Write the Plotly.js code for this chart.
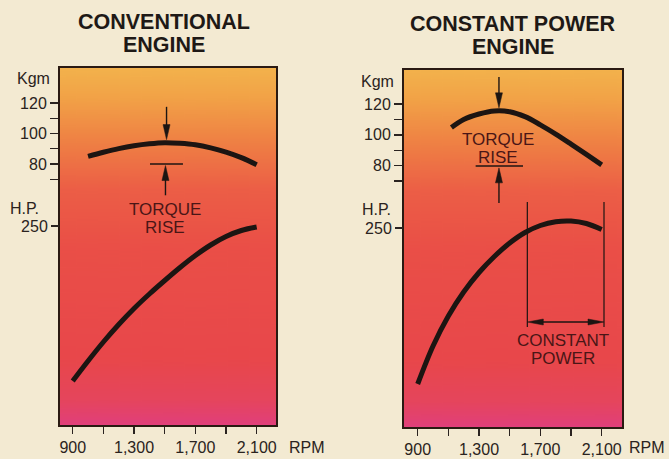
<!DOCTYPE html>
<html><head><meta charset="utf-8">
<script src="https://cdn.plot.ly/plotly-3.0.1.min.js"></script>
<style>html,body{margin:0;padding:0;background:#f3ead2;}#chart{width:669px;height:459px;}</style>
</head><body><div id="chart"></div>
<script>
// ---- data ----
const rpmTicks = [900, 1100, 1300, 1500, 1700, 1900, 2100];
const rpmTickText = ['900', '', '1,300', '', '1,700', '', '2,100'];
const kgmTicks = [70, 80, 90, 100, 110, 120];
const kgmTickText = ['', '80', '', '100', '', '120'];
const hpTicks = [250];
const hpTickText = ['250'];

// Conventional engine
const convTorqueRpm = [1000, 1100, 1200, 1300, 1400, 1500, 1600, 1700, 1800, 1900, 2000, 2100];
const convTorque    = [85.0, 87.7, 90.1, 92.0, 93.3, 94.0, 93.6, 92.6, 90.6, 87.8, 84.2, 79.6];
const convHpRpm = [900, 1000, 1100, 1200, 1300, 1400, 1500, 1600, 1700, 1800, 1900, 2000, 2100];
const convHp    = [95, 115, 134, 151.5, 167.5, 182, 195.5, 208.5, 220.5, 231, 239.5, 245.5, 249];

// Constant power engine
const cpTorqueRpm = [1120, 1200, 1300, 1400, 1500, 1600, 1700, 1800, 1900, 2000, 2100];
const cpTorque    = [104.8, 110.0, 113.5, 115.5, 115.0, 111.8, 106.5, 100.5, 94.0, 87.3, 80.5];
const cpHpRpm = [900, 1000, 1100, 1200, 1300, 1400, 1500, 1600, 1700, 1800, 1900, 2000, 2100];
const cpHp    = [94, 132, 162, 186, 205.5, 221.5, 235, 245.5, 252.5, 256.3, 257, 254.5, 248.5];

// annotation reference values
const convTorqueRiseTop = 96;     // Kgm, torque peak
const convRatedTorque = 80;       // Kgm
const cpTorqueRiseTop = 117.5;
const cpRatedTorque = 79.8;
const cpConstStart = 1615, cpConstEnd = 2115;  // RPM

// ---- helpers ----
const W = 669, H = 459;
const px = v => v / W;
const py = v => 1 - v / H;
const FONT = '"Liberation Sans", Arial, Helvetica, sans-serif';
const INK = '#1c1512';
const TXT = '#2a2320';
const MAROON = '#4a1616';

function gradientURL() {
  const c = document.createElement('canvas');
  c.width = 20; c.height = 400;
  const g = c.getContext('2d');
  const gr = g.createLinearGradient(0, 0, 0, 400);
  gr.addColorStop(0.00, '#f3b24c');
  gr.addColorStop(0.08, '#f2a347');
  gr.addColorStop(0.20, '#ef8244');
  gr.addColorStop(0.34, '#ec5e46');
  gr.addColorStop(0.50, '#ea4f47');
  gr.addColorStop(0.82, '#e8474b');
  gr.addColorStop(0.93, '#e5455d');
  gr.addColorStop(1.00, '#e13f7b');
  g.fillStyle = gr; g.fillRect(0, 0, 20, 400);
  return c.toDataURL('image/png');
}
const bg = gradientURL();

const lineStyle = {color: INK, width: 5, shape: 'spline', smoothing: 1};
const traces = [
  {x: convTorqueRpm, y: convTorque, xaxis: 'x', yaxis: 'y', mode: 'lines', line: lineStyle, hoverinfo: 'skip'},
  {x: convHpRpm, y: convHp, xaxis: 'x', yaxis: 'y3', mode: 'lines', line: lineStyle, hoverinfo: 'skip'},
  {x: cpTorqueRpm, y: cpTorque, xaxis: 'x2', yaxis: 'y2', mode: 'lines', line: lineStyle, hoverinfo: 'skip'},
  {x: cpHpRpm, y: cpHp, xaxis: 'x2', yaxis: 'y4', mode: 'lines', line: lineStyle, hoverinfo: 'skip'}
];

const tickFont = {family: FONT, size: 16, color: TXT};
function xAxis(domain, range, anchor) {
  return {domain, range, anchor, tickmode: 'array', tickvals: rpmTicks, ticktext: rpmTickText,
    ticks: 'outside', ticklen: 7, tickwidth: 1.3, tickcolor: TXT, tickfont: tickFont,
    showgrid: false, zeroline: false, showline: true, mirror: true, linecolor: '#2a1a12', linewidth: 2,
    fixedrange: true};
}
function kgmAxis(domain, range, anchor) {
  return {domain, range, anchor, tickmode: 'array', tickvals: kgmTicks, ticktext: kgmTickText,
    ticks: 'outside', ticklen: 8, tickwidth: 1.3, tickcolor: TXT, tickfont: tickFont,
    showgrid: false, zeroline: false, showline: true, mirror: true, linecolor: '#2a1a12', linewidth: 2,
    fixedrange: true};
}
function hpAxis(over, range, anchor) {
  return {overlaying: over, range, anchor, side: 'left', tickmode: 'array', tickvals: hpTicks, ticktext: hpTickText,
    ticks: 'outside', ticklen: 8, tickwidth: 1.3, tickcolor: TXT, tickfont: tickFont,
    showgrid: false, zeroline: false, showline: false, fixedrange: true};
}

const titleFont = {family: FONT, size: 21.5, color: '#1e1916'};
const labFont = {family: FONT, size: 16, color: TXT};
const noteFont = {family: FONT, size: 17, color: MAROON};

function pTxt(text, x, y, font) {
  return {text, x: px(x), y: py(y), xref: 'paper', yref: 'paper', showarrow: false,
    xanchor: 'center', yanchor: 'middle', font};
}
function dTxt(text, x, y, xr, yr) {
  return {text, x, y, xref: xr, yref: yr, showarrow: false, xanchor: 'center', yanchor: 'middle', font: noteFont};
}

const annotations = [
  pTxt('<b>CONVENTIONAL</b>', 164, 22, titleFont),
  pTxt('<b>ENGINE</b>', 164, 45, titleFont),
  pTxt('<b>CONSTANT POWER</b>', 513, 24, titleFont),
  pTxt('<b>ENGINE</b>', 513, 47, titleFont),
  pTxt('Kgm', 33, 79, labFont),
  pTxt('H.P.', 24, 208, labFont),
  pTxt('RPM', 307, 447, labFont),
  pTxt('Kgm', 377, 81, labFont),
  pTxt('H.P.', 376, 209, labFont),
  pTxt('RPM', 647, 447, labFont),
  dTxt('TORQUE', 1502, 50.5, 'x', 'y'),
  dTxt('RISE', 1502, 38.7, 'x', 'y'),
  dTxt('TORQUE', 1424, 97.3, 'x2', 'y2'),
  dTxt('RISE', 1424, 85.6, 'x2', 'y2'),
  dTxt('CONSTANT', 1848, 138, 'x2', 'y4'),
  dTxt('POWER', 1848, 120, 'x2', 'y4')
];

function seg(xr, yr, x0, y0, x1, y1, w) {
  return {type: 'line', xref: xr, yref: yr, x0, y0, x1, y1, line: {color: INK, width: w || 1.4}};
}
function head(xr, yr, x, y, path) {
  return {type: 'path', xref: xr, yref: yr, xsizemode: 'pixel', ysizemode: 'pixel', xanchor: x, yanchor: y,
    path, fillcolor: INK, line: {color: INK, width: 0.5}};
}
const DOWN = 'M0,0 L-3.5,15 L3.5,15 Z';
const UP = 'M0,0 L-3.5,-15 L3.5,-15 Z';
const LEFT = 'M0,0 L16,3 L16,-3 Z';
const RIGHT = 'M0,0 L-16,3 L-16,-3 Z';

const shapes = [
  // conventional: torque rise
  seg('x', 'y', 1512, 117.5, 1512, convTorqueRiseTop + 8),
  head('x', 'y', 1512, convTorqueRiseTop, DOWN),
  seg('x', 'y', 1404, convRatedTorque, 1619, convRatedTorque),
  seg('x', 'y', 1505, 59.5, 1505, convRatedTorque - 8),
  head('x', 'y', 1505, convRatedTorque - 1, UP),
  // constant power: torque rise
  seg('x2', 'y2', 1430, 137.5, 1430, cpTorqueRiseTop + 8),
  head('x2', 'y2', 1430, cpTorqueRiseTop, DOWN),
  seg('x2', 'y2', 1278, cpRatedTorque, 1587, cpRatedTorque),
  seg('x2', 'y2', 1430, 55.8, 1430, cpRatedTorque - 8),
  head('x2', 'y2', 1430, cpRatedTorque - 1.2, UP),
  // constant power range
  seg('x2', 'y4', cpConstStart, 151, cpConstStart, 276, 1.2),
  seg('x2', 'y4', cpConstEnd, 151, cpConstEnd, 276, 1.2),
  seg('x2', 'y4', cpConstStart + 60, 156, cpConstEnd - 60, 156, 1.6),
  head('x2', 'y4', cpConstStart, 156, LEFT),
  head('x2', 'y4', cpConstEnd, 156, RIGHT)
];

const images = [
  {source: bg, xref: 'x domain', yref: 'y domain', x: 0, y: 1, sizex: 1, sizey: 1, sizing: 'stretch', layer: 'below', xanchor: 'left', yanchor: 'top'},
  {source: bg, xref: 'x2 domain', yref: 'y2 domain', x: 0, y: 1, sizex: 1, sizey: 1, sizing: 'stretch', layer: 'below', xanchor: 'left', yanchor: 'top'}
];

const layout = {
  width: W, height: H,
  margin: {l: 0, r: 0, t: 0, b: 0},
  paper_bgcolor: '#f3ead2', plot_bgcolor: 'rgba(0,0,0,0)',
  showlegend: false,
  xaxis: xAxis([px(60), px(276)], [817, 2226], 'y'),
  yaxis: kgmAxis([1 - 425 / H, 1 - 68 / H], [-91.1, 142.95], 'x'),
  yaxis3: hpAxis('y', [51, 408], 'x'),
  xaxis2: xAxis([px(404), px(622)], [810.7, 2232.4], 'y2'),
  yaxis2: kgmAxis([1 - 427 / H, 1 - 70 / H], [-89.4, 142.04], 'x2'),
  yaxis4: hpAxis('y2', [51, 408], 'x2'),
  annotations, shapes, images
};

Plotly.newPlot('chart', traces, layout, {displayModeBar: false, staticPlot: true});
</script></body></html>
